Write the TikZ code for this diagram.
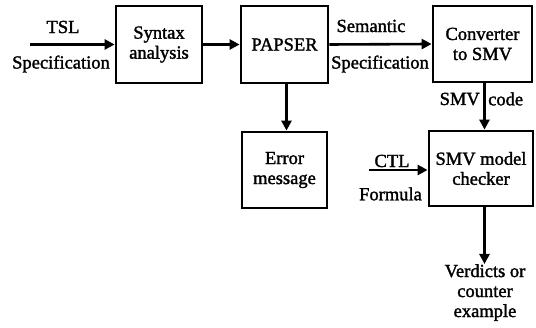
\documentclass[tikz,border=0pt]{standalone}
\usepackage{fontspec}
\setmainfont{Liberation Serif}[FakeBold=1.6]
\usetikzlibrary{arrows.meta}
\begin{document}
\begin{tikzpicture}[x=1pt,y=-1pt,
  box/.style={draw,line width=2.8pt,inner sep=0pt,align=center,font=\fontsize{18.5}{20}\selectfont},
  lbl/.style={inner sep=0pt,align=center,font=\fontsize{18.5}{20}\selectfont},
  arr/.style={line width=2.6pt,-{Triangle[length=10pt,width=10pt]}}]
\useasboundingbox (0,0) rectangle (536,328);
\node[box,minimum width=86pt,minimum height=77pt] (syn) at (159,44.5) {Syntax\\analysis};
\node[box,minimum width=87pt,minimum height=77pt] (pap) at (284.5,44.5) {PAPSER};
\node[box,minimum width=99pt,minimum height=76pt] (conv) at (482.5,44) {Converter\\to SMV};
\node[box,minimum width=85pt,minimum height=76pt] (err) at (284.5,170) {Error\\message};
\node[box,minimum width=104pt,minimum height=75pt] (smv) at (481,168.5) {SMV model\\checker};
\coordinate (tslin) at (30,44.5);
\coordinate (ctlin) at (369,170);
\node[lbl] (tsl) at (63,27) {TSL};
\node[lbl] (tslspec) at (61,64) {Specification};
\node[lbl] (sem) at (371,26) {Semantic};
\node[lbl] (semspec) at (380,64) {Specification};
\node[lbl,anchor=east] (smvw) at (480,99) {SMV};
\node[lbl,anchor=west] (code) at (488,99) {code};
\node[lbl] (ctl) at (392,161) {CTL};
\node[lbl] (form) at (390.5,194) {Formula};
\node[lbl,anchor=north] (verd) at (485,264) {Verdicts or\\counter\\example};
\draw[arr] (tslin) -- (syn.west);
\draw[arr] (syn.east) -- (pap.west);
\draw[arr] (pap.east) -- (conv.west);
\draw[arr] (pap.south -| 286.5,0) -- (err.north -| 286.5,0);
\draw[arr] (conv.south -| 484.5,0) -- (smv.north -| 484.5,0);
\draw[arr] (ctlin) -- (smv.west |- ctlin);
\draw[arr] (smv.south -| 484.5,0) -- (verd.north -| 484.5,0);
\end{tikzpicture}
\end{document}
